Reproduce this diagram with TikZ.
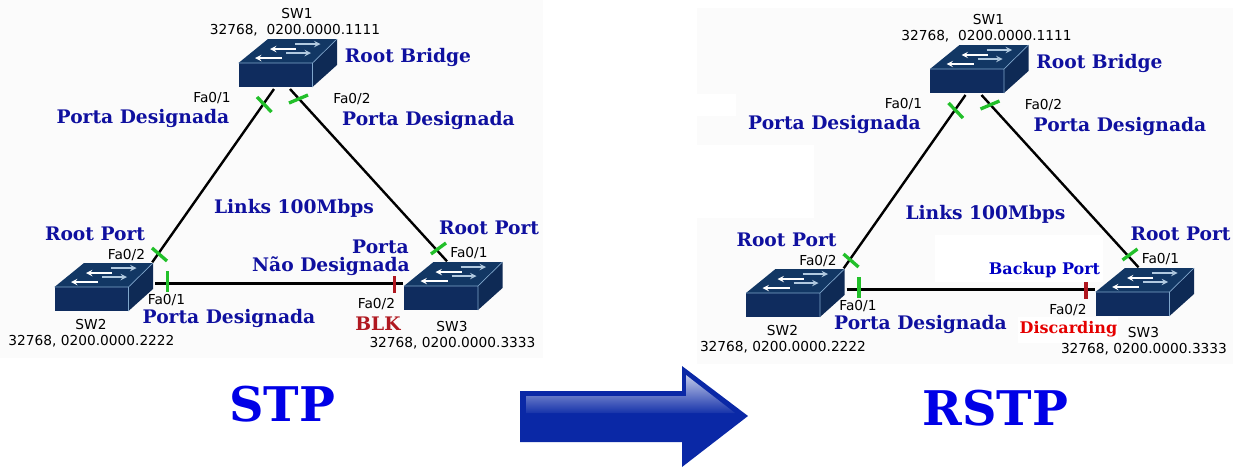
\documentclass[tikz,border=0pt]{standalone}
\usepackage{fontspec}
\setmainfont{DejaVu Serif}
\setsansfont{DejaVu Sans}
\definecolor{panelbg}{HTML}{FBFBFB}
\definecolor{labelblue}{HTML}{0F109F}
\definecolor{titleblue}{HTML}{0000E6}
\definecolor{tickgreen}{HTML}{22C02A}
\definecolor{tickred}{HTML}{B01820}
\definecolor{swfront}{HTML}{0F2C5E}
\definecolor{swtop}{HTML}{123764}
\definecolor{swside}{HTML}{0E2A55}
\definecolor{swedge}{HTML}{7FA6CC}
\definecolor{arrowblue}{HTML}{0A28A6}
\tikzset{
	every node/.style={inner sep=0pt,outer sep=0pt},
	small/.style={yshift=-0.5pt,font=\sffamily\fontsize{10.3}{12}\selectfont},
	tag/.style={yshift=-1.1pt,font=\bfseries\fontsize{14}{16}\selectfont,text=labelblue},
	title/.style={font=\bfseries\fontsize{35.8}{40}\selectfont,text=titleblue},
	link/.style={line width=1.8pt,black},
	tickok/.style={line width=2.5pt,tickgreen},
	tickblk/.style={line width=2.5pt,tickred},
	switch/.pic={
		\fill[swfront] (0,0) rectangle (74,-24);
		\fill[swtop] (0,-24) -- (29.5,-48) -- (98.5,-48) -- (74,-24) -- cycle;
		\fill[swside] (74,0) -- (98.5,-22) -- (98.5,-48) -- (74,-24) -- cycle;
		\draw[swedge,line width=0.5pt] (0,-24) -- (74,-24) -- (98.5,-48) (74,-24) -- (74,0);
		\draw[white,line width=1.1pt,-stealth] (57.5,-38) -- (31.5,-38);
		\draw[white,line width=1.1pt,-stealth] (43.5,-29) -- (16.5,-29);
		\draw[swedge!60!white,line width=1.1pt,-stealth] (56.5,-43) -- (82,-43);
		\draw[swedge!60!white,line width=1.1pt,-stealth] (47.5,-34) -- (72.5,-34);
		\coordinate (-downa) at (35.5,2);
		\coordinate (-downb) at (51.5,2);
		\coordinate (-backr) at (97.7,-48.7);
		\coordinate (-backm) at (43,-48.7);
		\coordinate (-east) at (100.7,-27.7);
		\coordinate (-west) at (-1,-26.7);
	},
}
\begin{document}
\begin{tikzpicture}[x=0.75pt,y=-0.75pt]
	\useasboundingbox (0,0) rectangle (1258,475);
	\fill[panelbg] (0,0) rectangle (543,358);
	\fill[panelbg] (697,8) rectangle (1233,364);
	\fill[white] (697,94) rectangle (736,116);
	\fill[white] (697,145) rectangle (814,218);
	\fill[white] (935,235) rectangle (1103,282);
	\fill[white] (1018,317) rectangle (1118,343);

	% the part both pictures share
	\foreach \dx/\dy/\pn in {0/0/a,691.5/6/b} {
		\begin{scope}[shift={(\dx,\dy)}]
			\pic (swone\pn) at (238.5,87) {switch};
			\pic (swtwo\pn) at (54.5,311) {switch};
			\pic (swthree\pn) at (404,310) {switch};
			\draw[link] (swone\pn-downa) -- (swtwo\pn-backr);
			\draw[link] (swone\pn-downb) -- (swthree\pn-backm);
			\draw[link] (swtwo\pn-east) -- (swthree\pn-west);
			\draw[tickok] (257,97) -- (271.5,112);
			\draw[tickok] (289,103) -- (308,95);
			\draw[tickok] (152,248) -- (167,261);
			\draw[tickok] (431,254) -- (446,243);
			\draw[tickok] (167.5,271) -- (167.5,292);
			\draw[tickblk] (394.6,276) -- (394.6,293);
			\node[small] (nameone\pn) at (297,13) {SW1};
			\node[small] (idone\pn) at (295,30) {32768,\ \ 0200.0000.1111};
			\node[small] (nametwo\pn) at (91,324) {SW2};
			\node[small] (idtwo\pn) at (91.5,341) {32768, 0200.0000.2222};
			\node[small] (namethree\pn) at (452,326) {SW3};
			\node[small] (idthree\pn) at (452.5,343) {32768, 0200.0000.3333};
			\node[small] (fa\pn) at (212,97) {Fa0/1};
			\node[small] (fb\pn) at (352,98) {Fa0/2};
			\node[small] (fc\pn) at (126.5,254) {Fa0/2};
			\node[small] (fd\pn) at (469,252) {Fa0/1};
			\node[small] (fe\pn) at (166.5,299) {Fa0/1};
			\node[small] (ff\pn) at (376.5,303) {Fa0/2};
			\node[tag] (root\pn) at (408,56) {Root Bridge};
			\node[tag] (desa\pn) at (143,117) {Porta Designada};
			\node[tag] (desb\pn) at (428.5,119.5) {Porta Designada};
			\node[tag] (desc\pn) at (229,317) {Porta Designada};
			\node[tag] (speed\pn) at (294,207) {Links 100Mbps};
			\node[tag] (rpa\pn) at (95,232) {Root Port};
			\node[tag] (rpb\pn) at (489,226) {Root Port};
		\end{scope}
	}

	% only on the left
	\node[tag] (ndtop) at (380.5,245) {Porta};
	\node[tag] (ndbot) at (331,265) {Não Designada};
	\node[tag,text=tickred] (blk) at (378,322) {BLK};
	\node[title] (stp) at (282,404) {STP};

	% only on the right
	\node[tag,font=\bfseries\fontsize{12}{14}\selectfont,text=titleblue!85!black] (backup) at (1044.5,269) {Backup Port};
	\node[tag,font=\bfseries\fontsize{12}{14}\selectfont,text=red!90!black] (disc) at (1068.5,328) {Discarding};
	\node[title] (rstp) at (995.5,408) {RSTP};

	% big arrow
	\fill[arrowblue] (520,391) -- (682,391) -- (682,366) -- (748,416) -- (682,467) -- (682,442) -- (520,442) -- cycle;
	\shade[top color=arrowblue!25!white,bottom color=arrowblue!95!white] (526,396) -- (686,396) -- (686,375) -- (735,413) -- (526,413) -- cycle;
\end{tikzpicture}
\end{document}
